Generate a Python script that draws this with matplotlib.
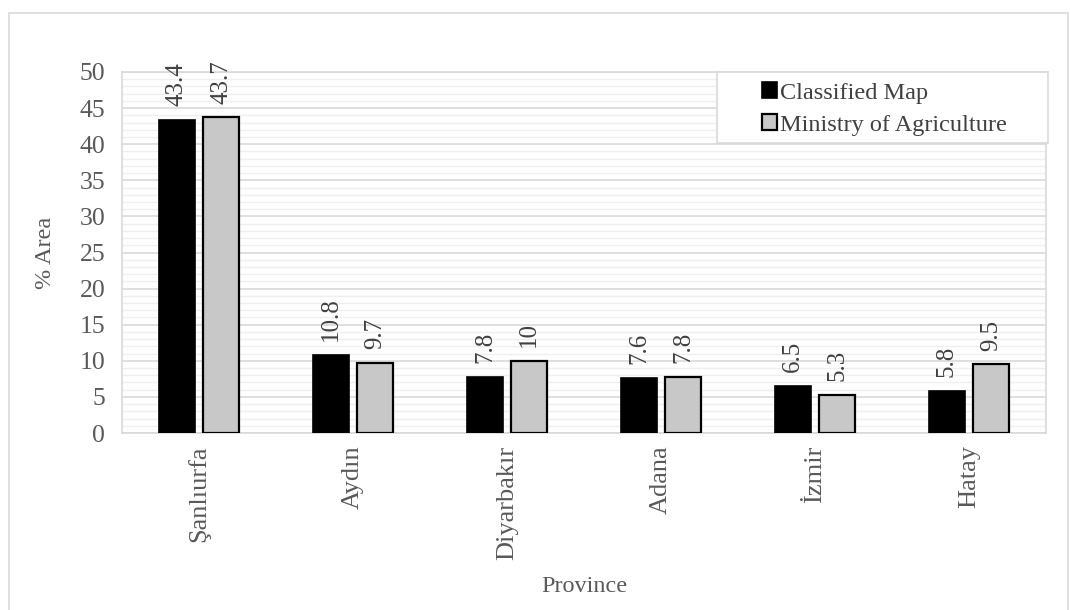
import matplotlib.pyplot as plt
import numpy as np
from matplotlib.patches import Rectangle

provinces = ["Şanlıurfa", "Aydın", "Diyarbakır", "Adana", "İzmir", "Hatay"]
classified = [43.4, 10.8, 7.8, 7.6, 6.5, 5.8]
ministry = [43.7, 9.7, 10, 7.8, 5.3, 9.5]

plt.rcParams['font.family'] = ['Liberation Serif', 'DejaVu Serif']

fig = plt.figure(figsize=(10.7, 6.1), dpi=100)
ax = fig.add_axes([122 / 1070, 1 - 433 / 610, (1046 - 122) / 1070, (433 - 72) / 610])

# marco exterior del grafico
fig.patches.append(Rectangle((9 / 1070, -0.01), (1068 - 9) / 1070, 1 - 13 / 610 + 0.01,
                             transform=fig.transFigure, fill=False, edgecolor='#d9d9d9', lw=1.2))

x = np.arange(len(provinces))
w = 0.235
off = 0.143
b1 = ax.bar(x - off, classified, w, color='black', edgecolor='black', lw=1.2,
            label='Classified Map', zorder=3)
b2 = ax.bar(x + off, ministry, w, color='#c8c8c8', edgecolor='black', lw=1.6,
            label='Ministry of Agriculture', zorder=3)

for bars, vals in ((b1, classified), (b2, ministry)):
    for r, v in zip(bars, vals):
        ax.annotate(f"{v:g}", (r.get_x() + r.get_width() / 2, v), xytext=(0, 10),
                    textcoords='offset points', rotation=90, ha='center', va='bottom',
                    fontsize=18, color='#404040')

ax.set_xlim(-0.5, len(provinces) - 0.5)
ax.set_ylim(0, 50)
ax.set_yticks(range(0, 51, 5))
ax.set_yticks(range(0, 51, 1), minor=True)
ax.grid(axis='y', which='major', color='#d9d9d9', lw=1.2, zorder=0)
ax.grid(axis='y', which='minor', color='#efefef', lw=1.0, zorder=0)
ax.tick_params(axis='y', which='both', length=0, labelsize=18.5, labelcolor='#595959', pad=12)
ax.tick_params(axis='x', length=0, labelsize=19, labelcolor='#595959', pad=9)
ax.set_xticks(x)
ax.set_xticklabels(provinces, rotation=90)
for s in ax.spines.values():
    s.set_color('#d9d9d9')
    s.set_linewidth(1.2)

ax.set_ylabel('% Area', fontsize=17.5, color='#595959', labelpad=17)
ax.set_xlabel('Province', fontsize=17.5, color='#595959', labelpad=12)

# caja de la leyenda dibujada aparte para dejar el hueco de la izquierda
ax.add_patch(Rectangle(((717 - 122) / 924, (433 - 143) / 361), (1048 - 717) / 924, 71 / 361,
                       transform=ax.transAxes, facecolor='white', edgecolor='#d9d9d9',
                       lw=1.2, zorder=5, clip_on=False))
leg = ax.legend(loc='center left', bbox_to_anchor=((762 - 122) / 924, (433 - 109) / 361),
                fontsize=17.5, frameon=False, handlelength=0.62, handleheight=0.62,
                handletextpad=0.1, borderpad=0, labelspacing=0.45, borderaxespad=0)
leg.set_zorder(6)
for t in leg.get_texts():
    t.set_color('#404040')

plt.savefig("out.png")
